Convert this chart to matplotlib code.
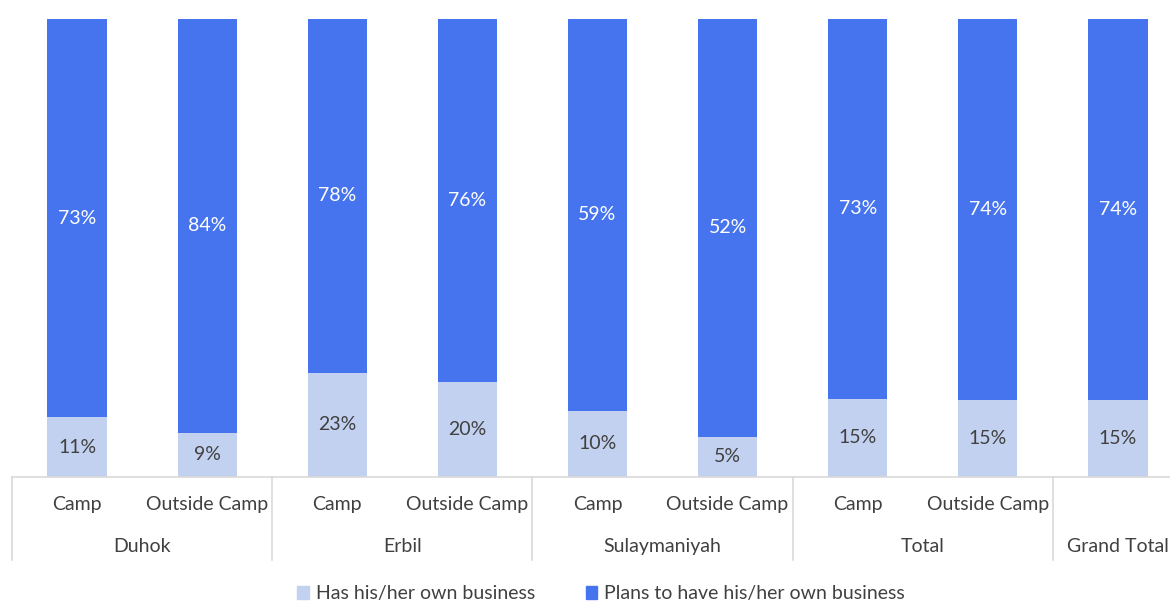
import matplotlib.pyplot as plt
from matplotlib.patches import Patch
import numpy as np

plt.rcParams['font.family'] = ['Lato', 'DejaVu Sans']

# category labels
sub_labels = ['Camp', 'Outside Camp', 'Camp', 'Outside Camp', 'Camp', 'Outside Camp',
              'Camp', 'Outside Camp', '']
groups = ['Duhok', 'Erbil', 'Sulaymaniyah', 'Total', 'Grand Total']
group_centers = [0.5, 2.5, 4.5, 6.5, 8]
# values in percent
has_business = [11, 9, 23, 20, 10, 5, 15, 15, 15]
plans_business = [73, 84, 78, 76, 59, 52, 73, 74, 74]

light = '#C3D1F1'
blue = '#4674EE'
grey_text = '#404040'
line_col = '#D9D9D9'

# bars are drawn as shares of the two answers (100% stacked)
has = np.array(has_business, dtype=float)
plans = np.array(plans_business, dtype=float)
tot = has + plans
has_n = has / tot
plans_n = plans / tot
x = np.arange(len(has))

fig = plt.figure(figsize=(11.7, 6.03), dpi=100)
ax = fig.add_axes([12 / 1170, 126 / 603, 1158 / 1170, 458 / 603])
w = 0.455
ax.bar(x, has_n, w, color=light, zorder=2)
ax.bar(x, plans_n, w, bottom=has_n, color=blue, zorder=2)

for i in range(len(x)):
    ax.text(x[i], has_n[i] / 2, f'{has_business[i]}%', ha='center', va='center',
            fontsize=14, color=grey_text)
    ax.text(x[i], has_n[i] + plans_n[i] / 2, f'{plans_business[i]}%', ha='center',
            va='center', fontsize=14, color='white')

ax.set_xlim(-0.5, 8.4)
ax.set_ylim(0, 1)
ax.axis('off')

# category axis
ax.plot([-0.5, 8.4], [0, 0], color=line_col, lw=1.2, clip_on=False, zorder=3)
trans = ax.get_xaxis_transform()
for sx in [-0.5, 1.5, 3.5, 5.5, 7.5]:
    ax.plot([sx, sx], [0, -0.181], color=line_col, lw=1.2, transform=trans, clip_on=False)
for i, lab in enumerate(sub_labels):
    if lab:
        ax.text(x[i], -0.059, lab, transform=trans, ha='center', va='center',
                fontsize=14, color=grey_text)
for gx, g in zip(group_centers, groups):
    ax.text(gx, -0.151, g, transform=trans, ha='center', va='center',
            fontsize=14, color=grey_text)

handles = [Patch(color=light, label='Has his/her own business'),
           Patch(color=blue, label='Plans to have his/her own business')]
fig.legend(handles=handles, loc='center', bbox_to_anchor=(601 / 1170, 1 - 594 / 603),
           ncol=2, frameon=False, fontsize=14, handlelength=0.6, handleheight=0.6,
           handletextpad=0.35, columnspacing=2.6, labelcolor=grey_text)

fig.savefig('out.png', dpi=100)
